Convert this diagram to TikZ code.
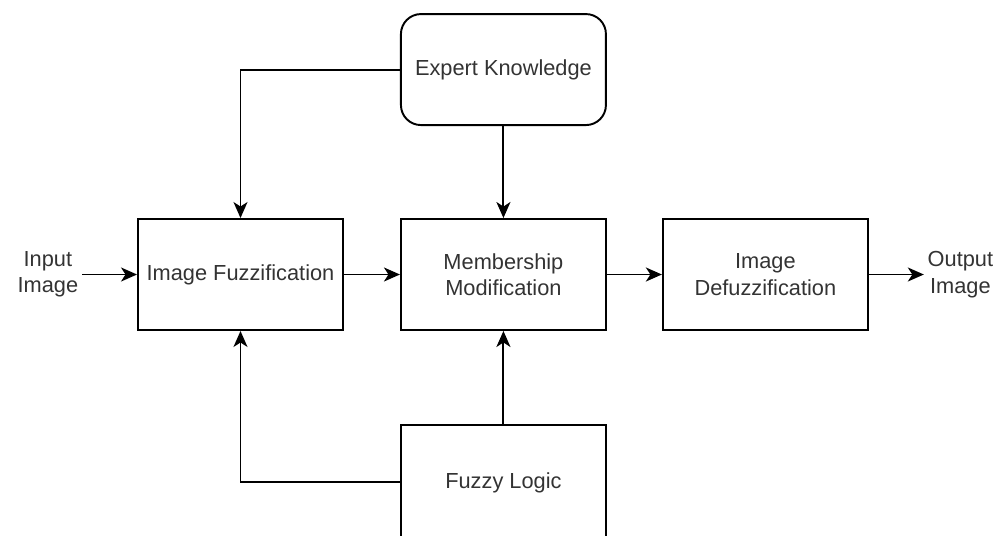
\documentclass[tikz,border=0pt]{standalone}
\usepackage{fontspec}
\setmainfont{Liberation Sans}
\usetikzlibrary{arrows.meta,positioning}
\definecolor{fuzzText}{RGB}{51, 51, 51}

\begin{document}
\begin{tikzpicture}[
  block/.style={draw,line width=1.1pt,minimum width=4.1cm,minimum height=2.22cm,align=center,text=fuzzText,font=\fontsize{12.4}{15}\selectfont},
  io/.style={align=center,inner sep=2pt,text=fuzzText,font=\fontsize{12.4}{15}\selectfont},
  arrow/.style={-{Stealth[length=3.2mm,width=2.8mm,inset=0.9mm]},line width=1.1pt}
]
  \useasboundingbox (-4.81,-5.21) rectangle (15.19,5.49);
  \node[block] (fuzz) at (0,0) {Image Fuzzification};
  \node[block,right=1.12cm of fuzz] (member) {Membership\\Modification};
  \node[block,right=1.1cm of member] (defuzz) {Image\\Defuzzification};
  \node[block,rounded corners=0.4cm,above=1.84cm of member] (expert) {Expert Knowledge};
  \node[block,minimum height=2.3cm,below=1.86cm of member] (logic) {Fuzzy Logic};
  \node[io,left=1.1cm of fuzz] (input) {Input\\Image};
  \node[io,right=1.1cm of defuzz] (output) {Output\\Image};
  \draw[arrow] (input) -- (fuzz);
  \draw[arrow] (fuzz) -- (member);
  \draw[arrow] (member) -- (defuzz);
  \draw[arrow] (defuzz) -- (output);
  \draw[arrow] (expert) -- (member);
  \draw[arrow] (logic) -- (member);
  \draw[arrow] (expert.west) -| (fuzz.north);
  \draw[arrow] (logic.west) -| (fuzz.south);
\end{tikzpicture}
\end{document}
